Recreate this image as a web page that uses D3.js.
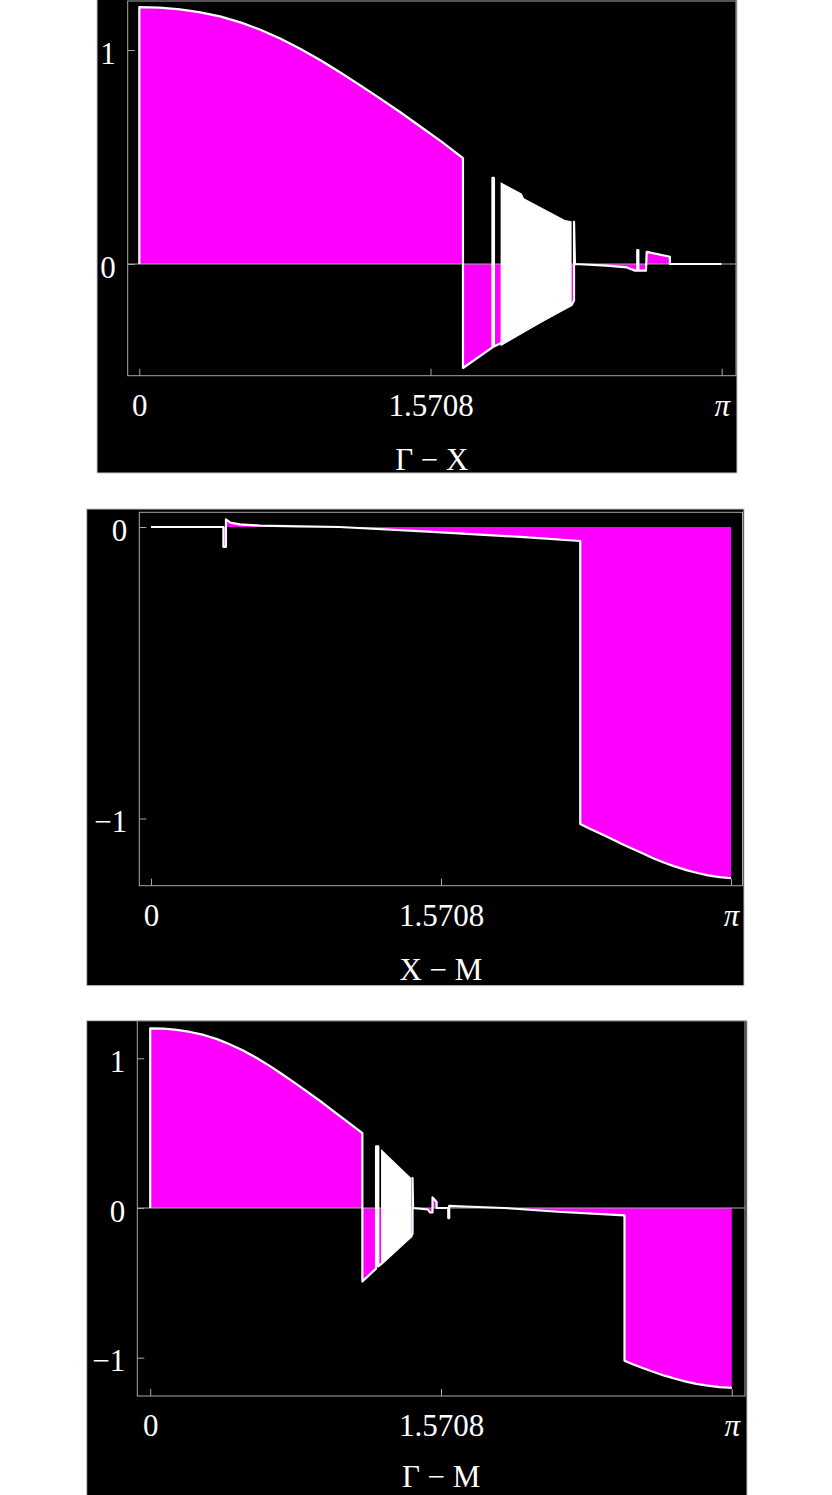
<!DOCTYPE html>
<html>
<head>
<meta charset="utf-8">
<script src="https://cdn.jsdelivr.net/npm/d3@7"></script>
<style>
  body { margin: 0; background: #fff; }
  svg { display: block; }
</style>
</head>
<body>
<div id="Area"></div>
<script>
// tick values and labels shared by the three panels
var xTickValues = [0, Math.PI / 2, Math.PI];
var xTickLabels = ["0", "1.5708", "π"];
var titles = ["Γ − X", "X − M", "Γ − M"];

// Γ - X : [k, value]
var gxLine = [
    [0, 0], [0, 1.200], [0.11, 1.198], [0.22, 1.19], [0.33, 1.176], [0.44, 1.156],
    [0.55, 1.128], [0.65, 1.096], [0.76, 1.054], [0.87, 1.005], [0.98, 0.951],
    [1.08, 0.897], [1.19, 0.836], [1.30, 0.773], [1.41, 0.708], [1.51, 0.646],
    [1.63, 0.572], [1.746, 0.495],
    [1.746, -0.486], [1.905, -0.39], [1.905, 0.403], [1.913, 0.403], [1.913, -0.385],
    [1.949, -0.37], [2.332, -0.192], [2.345, -0.17], [2.345, 0.197], [2.35, 0],
    [2.52, -0.008], [2.63, -0.016], [2.674, -0.031], [2.686, -0.031], [2.686, 0.065],
    [2.692, 0.065], [2.692, -0.031], [2.733, -0.031], [2.737, 0.057], [2.862, 0.034],
    [2.862, 0], [3.14, 0]
];
// dense oscillation region: [k, upper, lower]
var gxBand = [
    [1.949, 0.382, -0.384], [2.063, 0.33, -0.327], [2.075, 0.307, -0.321],
    [2.296, 0.206, -0.21], [2.332, 0.2, -0.192]
];

// X - M
var xmLine = [
    [0, 0], [0.392, 0], [0.392, -0.068], [0.406, -0.068], [0.406, 0.026], [0.43, 0.015],
    [0.48, 0.009], [0.59, 0.005], [0.8, 0.002], [1.02, 0], [1.5, -0.016], [2.0, -0.034],
    [2.325, -0.048], [2.325, -1.019], [2.38, -1.036], [2.43, -1.051], [2.49, -1.069],
    [2.548, -1.087], [2.607, -1.104], [2.665, -1.12], [2.72, -1.136], [2.781, -1.152],
    [2.84, -1.165], [2.9, -1.177], [2.96, -1.187], [3.017, -1.195], [3.08, -1.201],
    [3.1416, -1.205]
];
var xmBand = [];

// Γ - M
var gmLine = [
    [0, 0], [0, 1.200], [0.072, 1.198], [0.144, 1.19], [0.216, 1.176], [0.289, 1.156],
    [0.361, 1.128], [0.426, 1.096], [0.499, 1.054], [0.571, 1.005], [0.643, 0.951],
    [0.709, 0.897], [0.781, 0.836], [0.853, 0.773], [0.925, 0.708], [0.991, 0.646],
    [1.07, 0.572], [1.146, 0.50],
    [1.146, -0.49], [1.22, -0.405], [1.22, 0.412], [1.232, 0.412], [1.232, -0.39],
    [1.247, -0.375], [1.41, -0.19], [1.417, -0.17], [1.417, 0.2], [1.42, 0],
    [1.5, -0.01], [1.511, -0.03], [1.525, -0.03], [1.525, 0.071], [1.547, 0.04],
    [1.547, 0], [1.61, 0], [1.61, -0.067], [1.615, -0.067], [1.615, 0.015],
    [1.7, 0.01], [1.913, 0], [2.2, -0.025], [2.562, -0.049], [2.562, -1.02],
    [2.61, -1.045], [2.66, -1.069], [2.72, -1.095], [2.778, -1.12], [2.836, -1.141],
    [2.894, -1.16], [2.95, -1.175], [3.011, -1.187], [3.075, -1.196], [3.1416, -1.202]
];
var gmBand = [
    [1.247, 0.394, -0.375], [1.41, 0.2, -0.19]
];

var yTicks1 = [0, 1], yLabels1 = ["0", "1"];
var yTicks2 = [-1, 0], yLabels2 = ["−1", "0"];
var yTicks3 = [-1, 0, 1], yLabels3 = ["−1", "0", "1"];

var width = 832, height = 1495;
var font = "'Liberation Serif', 'Times New Roman', serif";
var fontSize = 31;

// layout of each panel in pixels
var panels = [
    {bg: [97, -1, 737, 473], frame: [127.7, 1, 736, 375.7], xr: [139.3, 721.7],
     yd: [0, 1], yr: [264, 50], zero: true, line: gxLine, band: gxBand,
     yt: yTicks1, yl: yLabels1, title: titles[0]},
    {bg: [86.7, 509, 744, 985.7], frame: [139.3, 512.3, 742.5, 885.7], xr: [151, 731],
     yd: [-1, 0], yr: [818.5, 527], zero: false, line: xmLine, band: xmBand,
     yt: yTicks2, yl: yLabels2, title: titles[1]},
    {bg: [86.7, 1020.7, 747, 1500], frame: [137.3, 1020.7, 745, 1396], xr: [150.2, 731.8],
     yd: [-1, 1], yr: [1357.7, 1058.3], zero: true, line: gmLine, band: gmBand,
     yt: yTicks3, yl: yLabels3, title: titles[2]}
];

var svg = d3.select("#Area")
    .append("svg")
    .attr("width", width)
    .attr("height", height);

panels.forEach(function(p, i) {
    var x = d3.scaleLinear().domain([0, Math.PI]).range(p.xr);
    var y = d3.scaleLinear().domain(p.yd).range(p.yr);
    var f = p.frame;

    svg.append("rect")
        .attr("x", p.bg[0]).attr("y", p.bg[1])
        .attr("width", p.bg[2] - p.bg[0]).attr("height", p.bg[3] - p.bg[1])
        .attr("fill", "#000")
        .attr("stroke", "#c8c8c8");

    var clipId = "clip" + i;
    svg.append("clipPath").attr("id", clipId)
        .append("rect")
        .attr("x", f[0]).attr("y", f[1])
        .attr("width", f[2] - f[0]).attr("height", f[3] - f[1]);

    var plot = svg.append("g").attr("clip-path", "url(#" + clipId + ")");

    // filling to the axis
    plot.append("path")
        .datum(p.line)
        .attr("fill", "#ff00ff")
        .attr("d", d3.area()
            .x(function(d) { return x(d[0]); })
            .y0(y(0))
            .y1(function(d) { return y(d[1]); }));

    if (p.zero) {
        plot.append("line")
            .attr("x1", f[0]).attr("x2", f[2])
            .attr("y1", y(0)).attr("y2", y(0))
            .attr("stroke", "#a8a8a8")
            .attr("stroke-width", 1);
    }

    // oscillating part, drawn as its envelope
    plot.append("path")
        .datum(p.band)
        .attr("fill", "#fff")
        .attr("d", d3.area()
            .x(function(d) { return x(d[0]); })
            .y0(function(d) { return y(d[2]); })
            .y1(function(d) { return y(d[1]); }));

    plot.append("path")
        .datum(p.line)
        .attr("fill", "none")
        .attr("stroke", "#fff")
        .attr("stroke-width", 2.2)
        .attr("stroke-linejoin", "round")
        .attr("d", d3.line()
            .x(function(d) { return x(d[0]); })
            .y(function(d) { return y(d[1]); }));

    // frame
    svg.append("rect")
        .attr("x", f[0]).attr("y", f[1])
        .attr("width", f[2] - f[0]).attr("height", f[3] - f[1])
        .attr("fill", "none")
        .attr("stroke", "#a8a8a8")
        .attr("stroke-width", 1);

    var xAxis = svg.append("g")
        .attr("transform", "translate(0," + f[3] + ")")
        .call(d3.axisBottom(x)
            .tickValues(xTickValues)
            .tickSize(-7)
            .tickPadding(18)
            .tickFormat(function(d, j) { return xTickLabels[j]; }));
    xAxis.select(".domain").remove();
    xAxis.attr("font-size", fontSize).attr("font-family", font).attr("color", "#a8a8a8");
    xAxis.selectAll("text").attr("fill", "#fff")
        .style("font-style", function(d, j) { return xTickLabels[j] === "π" ? "italic" : "normal"; });

    var yAxis = svg.append("g")
        .attr("transform", "translate(" + f[0] + ",0)")
        .call(d3.axisLeft(y)
            .tickValues(p.yt)
            .tickSize(-7)
            .tickPadding(12)
            .tickFormat(function(d, j) { return p.yl[j]; }));
    yAxis.select(".domain").remove();
    yAxis.attr("font-size", fontSize).attr("font-family", font).attr("color", "#a8a8a8");
    yAxis.selectAll("text").attr("fill", "#fff").attr("dy", "0.42em");

    // axis title, kept inside the page at the bottom
    svg.append("text")
        .attr("x", (f[0] + f[2]) / 2)
        .attr("y", Math.min(f[3] + 94, height - 8))
        .attr("text-anchor", "middle")
        .attr("font-family", font)
        .attr("font-size", fontSize)
        .attr("fill", "#fff")
        .text(p.title);
});
</script>
</body>
</html>
